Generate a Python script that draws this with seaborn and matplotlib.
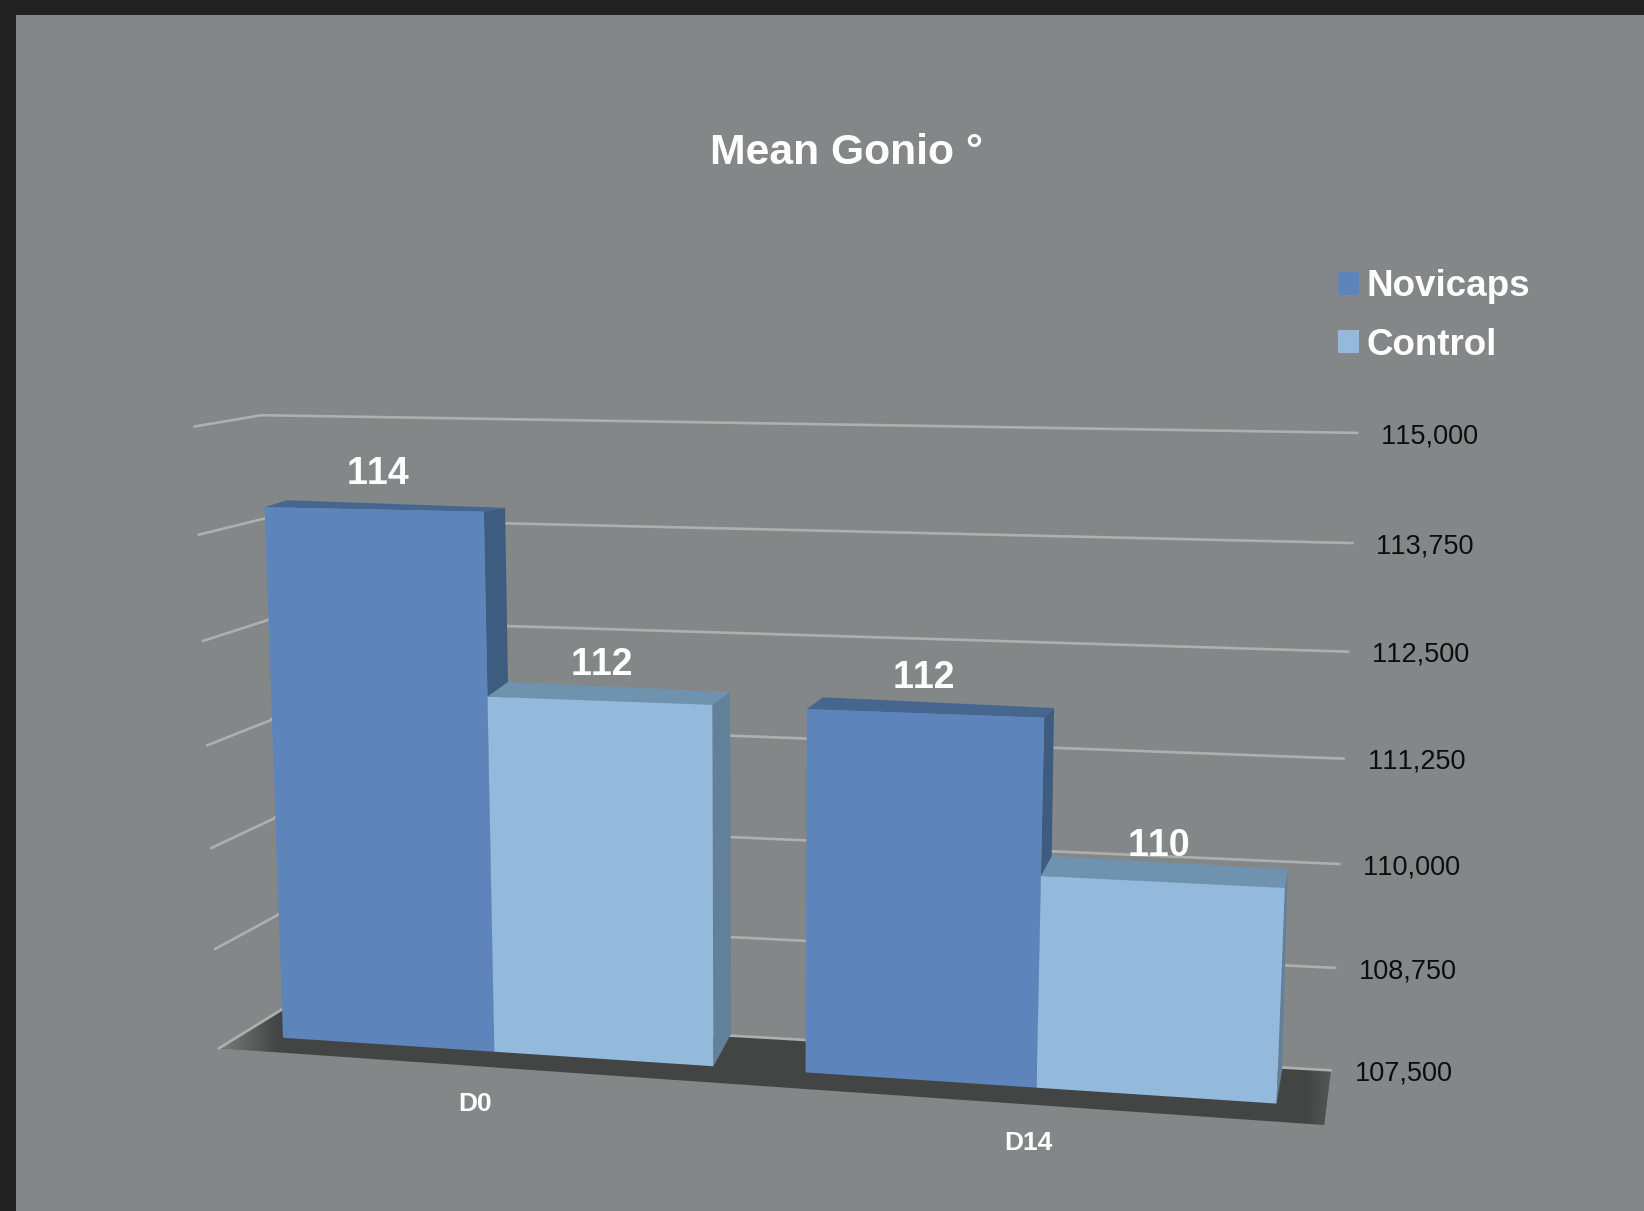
import numpy as np
import pandas as pd
import matplotlib
matplotlib.use("Agg")
import matplotlib.pyplot as plt
import matplotlib.colors as mcolors
import seaborn as sns
from matplotlib.patches import Polygon, Rectangle
from matplotlib.transforms import Affine2D, Transform

# chart values
days = ["D0", "D14"]
groups = ["Novicaps", "Control"]
novicaps = [114.0, 111.82]
control = [111.83, 110.0]
axis_ticks = [115.0, 113.75, 112.5, 111.25, 110.0, 108.75, 107.5]

# colours
bg_dark = "#212121"
bg_panel = "#838787"
floor_color = "#434544"
grid_color = "#aeb0af"
front_colors = ["#5d84bb", "#93b9dc"]
top_colors = ["#45668f", "#6f93ae"]
side_colors = ["#3e5c7f", "#628099"]

# layout: where the 3d scene lands on the page, in 1568x1155 picture units
W, H = 1644, 1211
S = W / 1568
BASE = 107.5
front_px = [
    [[(252, 484), (462, 487), (471, 1003), (270, 990)],
     [(768, 677), (995, 685), (988, 1037), (768, 1023)]],
    [[(465, 665), (681, 672), (682, 1017), (471, 1003)],
     [(993, 835), (1226, 847), (1218, 1053), (988, 1037)]],
]
back_px = [
    [[(274, 477), (487, 481), None, None],
     [(780, 665), (1004, 673), None, None]],
    [[(480, 654), (699, 660), (698, 985), None],
     [(1003, 821), (1228, 832), (1225, 1018), None]],
]
wall_right_px = [(1295, 412), (1290, 518), (1285, 622), (1282, 724),
                 (1278, 825), (1273, 923), (1270, 1020)]
wall_left_px = [(250, 396), (268, 963)]
side_front_px = [(185, 407), (190, 510), (193, 611), (197, 711),
                 (201, 809), (205, 905), (210, 1000)]
floor_front_right_px = (1263, 1073)
day_label_offsets = [(-18, 50), (-8, 53)]


def norm(pts):
    pts = np.asarray(pts, dtype=float)
    return np.c_[pts[:, 0], (pts[:, 1] - BASE) / 7.5]


def fit_h(src, dst):
    src = norm(src)
    dst = np.asarray(dst, dtype=float) / 1000
    rows = []
    for (x, y), (X, Y) in zip(src, dst):
        rows.append([x, y, 1, 0, 0, 0, -X * x, -X * y, -X])
        rows.append([0, 0, 0, x, y, 1, -Y * x, -Y * y, -Y])
    return np.linalg.svd(np.array(rows))[2][-1].reshape(3, 3)


class Projective(Transform):
    input_dims = 2
    output_dims = 2

    def __init__(self, h):
        super().__init__()
        self.h = h

    def transform_non_affine(self, values):
        p = np.c_[norm(values), np.ones(len(values))] @ self.h.T
        return 1000 * p[:, :2] / p[:, 2:]


PIX = Affine2D().scale(S, -S).translate(0, H)

sns.set_theme(style="white")
plt.rcParams["font.family"] = ["Liberation Sans", "DejaVu Sans"]
plt.rcParams["text.kerning_factor"] = 12  # the digits in the picture are not kerned

df = pd.DataFrame({
    "day": days * 2,
    "group": [groups[0]] * 2 + [groups[1]] * 2,
    "value": novicaps + control,
})

fig = plt.figure(figsize=(W / 100, H / 100), dpi=100, facecolor=bg_dark)
ax = fig.add_axes([0, 0, 1, 1])
sns.barplot(data=df, x="day", y="value", hue="group", palette=front_colors,
            saturation=1, width=0.83, gap=0, errorbar=None, linewidth=0, ax=ax)
ax.set_axis_off()

ax.add_patch(Rectangle((15.3, 14.3), 1568, 1155, color=bg_panel, lw=0, transform=PIX, zorder=0))

# bars first get their real base, then the planes are fitted on their corners
src_front, dst_front, src_back, dst_back = [], [], [], []
bars = []
for g, container in enumerate(ax.containers):
    for d, bar in enumerate(container.patches):
        val = bar.get_height()
        bar.set_y(BASE)
        bar.set_height(val - BASE)
        x0, x1 = bar.get_x(), bar.get_x() + bar.get_width()
        corners = [(x0, val), (x1, val), (x1, BASE), (x0, BASE)]
        for c, f, b in zip(corners, front_px[g][d], back_px[g][d]):
            src_front.append(c)
            dst_front.append(f)
            if b is not None:
                src_back.append(c)
                dst_back.append(b)
        bars.append((x0, bar, g, d, val))

front = Projective(fit_h(src_front, dst_front))
back = Projective(fit_h(src_back, dst_back))

wall = Projective(fit_h(
    [(0, axis_ticks[0]), (0, axis_ticks[-1])] + [(1, t) for t in axis_ticks],
    wall_left_px + wall_right_px))
side = Projective(fit_h(
    [(0, axis_ticks[0]), (0, axis_ticks[-1])] + [(1, t) for t in axis_ticks],
    wall_left_px + side_front_px))

# floor, fading into the panel at its far left tip and right end
floor_pts = [wall.transform([[0, BASE]])[0], wall.transform([[1, BASE]])[0],
             floor_front_right_px, side.transform([[1, BASE]])[0]]
floor = Polygon(floor_pts, closed=True, color=floor_color, lw=0, transform=PIX, zorder=1)
ax.add_patch(floor)
fade = np.zeros((1, 1060, 4))
fade[..., :3] = mcolors.to_rgb(bg_panel)
fade[..., 3] = np.interp(np.arange(1060), [0, 55, 1035, 1060], [0.85, 0, 0, 0.3])
img = ax.imshow(fade, extent=(210, 1270, 1075, 955), transform=PIX, aspect="auto",
                interpolation="bilinear", zorder=1.5)
img.set_clip_path(floor)

# grid on back wall and left wall
for t in axis_ticks:
    ax.plot([0, 1], [t, t], color=grid_color, lw=1.9, transform=wall + PIX, zorder=2)
    ax.plot([0, 1], [t, t], color=grid_color, lw=1.9, transform=side + PIX, zorder=2)
    end = wall.transform([[1, t]])[0]
    ax.text(end[0] + 22.5, end[1] + 3, f"{t:.3f}".replace(".", ","), color="#0d0d0d",
            fontsize=19.5, ha="left", va="center", transform=PIX, zorder=20)

# bars, painted left to right
for order, (x0, bar, g, d, val) in enumerate(sorted(bars, key=lambda b: b[0])):
    x1 = x0 + bar.get_width()
    z = 5 + order
    top_poly = np.vstack([front.transform([[x0, val], [x1, val]]),
                          back.transform([[x1, val], [x0, val]])])
    side_poly = np.vstack([front.transform([[x1, val], [x1, BASE]]),
                           back.transform([[x1, BASE], [x1, val]])])
    ax.add_patch(Polygon(side_poly, closed=True, color=side_colors[g], lw=0, transform=PIX, zorder=z))
    ax.add_patch(Polygon(top_poly, closed=True, color=top_colors[g], lw=0, transform=PIX, zorder=z))
    bar.set_transform(front + PIX)
    bar.set_zorder(z + 0.5)
    bar.set_clip_on(False)
    mid = front.transform([[(x0 + x1) / 2, val]])[0]
    # the labels sit a little closer to the chart centre than the bars do
    ax.text(mid[0] + 5 - 0.0106 * (mid[0] - 355), mid[1] - 34, f"{val:.0f}", color="white",
            fontsize=27, fontweight="bold", ha="center", va="center", transform=PIX, zorder=20)

# category labels under the floor edge
for i, day in enumerate(days):
    p = front.transform([[i, BASE]])[0]
    ax.text(p[0] + day_label_offsets[i][0], p[1] + day_label_offsets[i][1], day, color="white",
            fontsize=19, fontweight="bold", ha="center", va="center", transform=PIX, zorder=20)

ax.text(677, 156, "Mean Gonio °", color="white", fontsize=30.7, fontweight="bold",
        ha="left", va="baseline", transform=PIX, zorder=20)

sns.move_legend(ax, loc="upper left", bbox_to_anchor=(1276 * S / W, 1 - 257 * S / H),
                title=None, frameon=False, borderpad=0, borderaxespad=0,
                handlelength=0.575, handleheight=0.575, handletextpad=0.2,
                labelspacing=0.635, fontsize=26.5)
for txt in ax.get_legend().get_texts():
    txt.set_color("white")
    txt.set_fontweight("bold")
ax.get_legend().set_zorder(20)

fig.savefig("out.png", dpi=100, facecolor=bg_dark)
